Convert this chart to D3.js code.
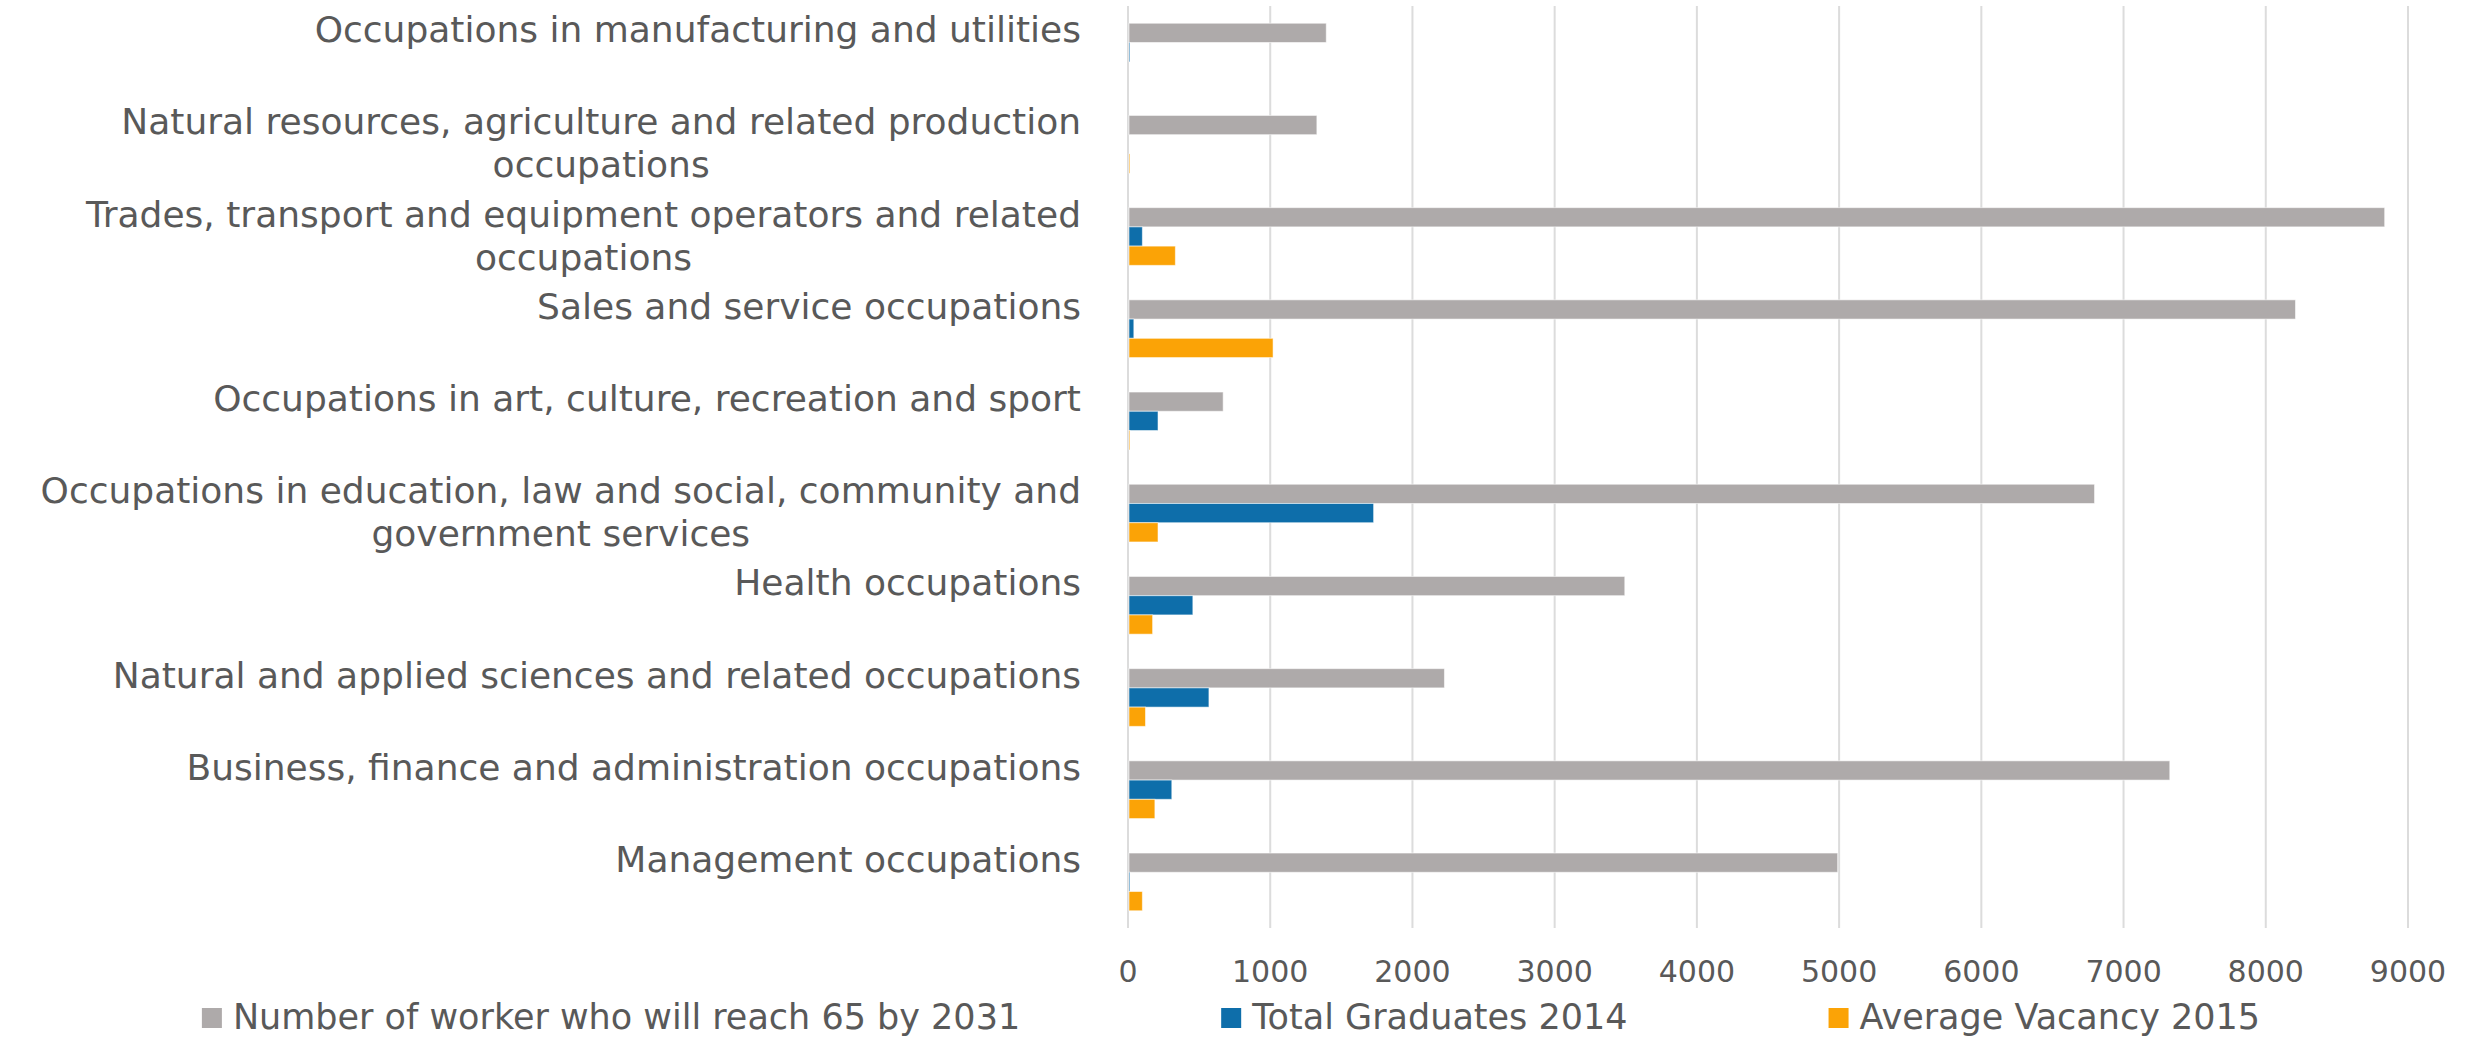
<!DOCTYPE html>
<html>
<head>
<meta charset="utf-8">
<script src="https://cdn.jsdelivr.net/npm/d3@7"></script>
<style>
  body { margin: 0; background: #fff; }
  svg text { font-family: "DejaVu Sans", sans-serif; fill: #595959; }
</style>
</head>
<body>
<svg id="chart" width="2466" height="1038"></svg>
<script>
// categories top to bottom, "\n" marks where the label wraps
var categories = [
    "Occupations in manufacturing and utilities",
    "Natural resources, agriculture and related production\noccupations",
    "Trades, transport and equipment operators and related\noccupations",
    "Sales and service occupations",
    "Occupations in art, culture, recreation and sport",
    "Occupations in education, law and social, community and\ngovernment services",
    "Health occupations",
    "Natural and applied sciences and related occupations",
    "Business, finance and administration occupations",
    "Management occupations"
];
var workers65 = [1394, 1328, 8836, 8209, 669, 6796, 3493, 2225, 7325, 4990];
var graduates2014 = [10, 0, 101, 41, 211, 1727, 456, 569, 308, 8];
var vacancy2015 = [0, 8, 333, 1020, 10, 211, 173, 123, 189, 101];

var seriesNames = ["Number of worker who will reach 65 by 2031", "Total Graduates 2014", "Average Vacancy 2015"];
var seriesColors = ["#aeaaaa", "#0e6eaa", "#fba306"];
var xTicks = [0, 1000, 2000, 3000, 4000, 5000, 6000, 7000, 8000, 9000];

var svg = d3.select("#chart");

var plotLeft = 1128, plotRight = 2408, plotTop = 6, plotBottom = 928;

var x = d3.scaleLinear().domain([0, 9000]).range([plotLeft, plotRight]);

var y = d3.scaleBand()
    .domain(categories)
    .range([plotTop, plotBottom])
    .paddingInner(0.374)
    .paddingOuter(0.187);

var ySub = d3.scaleBand()
    .domain([0, 1, 2])
    .range([0, y.bandwidth()]);

// gridlines
svg.append("g")
    .selectAll("line")
    .data(xTicks)
    .enter().append("line")
    .attr("x1", function (d) { return x(d); })
    .attr("x2", function (d) { return x(d); })
    .attr("y1", plotTop)
    .attr("y2", plotBottom)
    .style("stroke", "#dcdcdc")
    .style("stroke-width", 2);

// bars
var rows = categories.map(function (c, i) {
    return { cat: c, values: [workers65[i], graduates2014[i], vacancy2015[i]] };
});

var group = svg.append("g").selectAll(".cat")
    .data(rows)
    .enter().append("g")
    .attr("class", "cat")
    .attr("transform", function (d) { return "translate(0," + y(d.cat) + ")"; });

group.selectAll("rect")
    .data(function (d) {
        return d.values.map(function (v, s) { return { v: v, s: s }; })
            .filter(function (e) { return e.v > 0; });
    })
    .enter().append("rect")
    .attr("x", x(0) + 1)
    .attr("y", function (d) { return ySub(d.s); })
    .attr("width", function (d) { return Math.max(1, x(d.v) - x(0) - 1); })
    .attr("height", ySub.bandwidth())
    .style("fill", function (d) { return seriesColors[d.s]; })
    .style("stroke", "#ffffff")
    .style("stroke-opacity", 0.55)
    .style("stroke-width", 1);

// category labels
var labels = svg.append("g").selectAll("text")
    .data(categories)
    .enter().append("text")
    .style("font-size", "36px")
    .attr("y", function (d) { return y(d) + y.bandwidth() / 2 - 10; });

labels.each(function (d) {
    var t = d3.select(this);
    var lines = d.split("\n");
    var first = t.append("tspan")
        .attr("x", 1081)
        .attr("text-anchor", "end")
        .text(lines[0]);
    if (lines.length > 1) {
        // wrapped line is centred under the first one
        var w = first.node().getComputedTextLength();
        t.append("tspan")
            .attr("x", 1081 - w / 2)
            .attr("dy", 43)
            .attr("text-anchor", "middle")
            .text(lines[1]);
    }
});

// x tick labels
svg.append("g").selectAll("text")
    .data(xTicks)
    .enter().append("text")
    .attr("x", function (d) { return x(d); })
    .attr("y", 982)
    .attr("text-anchor", "middle")
    .style("font-size", "30px")
    .text(function (d) { return d; });

// legend, laid out then centred
var legend = svg.append("g");
var item = legend.selectAll("g")
    .data(seriesNames)
    .enter().append("g");

item.append("rect")
    .attr("y", 1008)
    .attr("width", 20)
    .attr("height", 20)
    .style("fill", function (d, i) { return seriesColors[i]; });

item.append("text")
    .attr("x", 31)
    .attr("y", 1029)
    .style("font-size", "35px")
    .text(function (d) { return d; });

var xpos = 0;
item.each(function () {
    var g = d3.select(this);
    g.attr("transform", "translate(" + xpos + ",0)");
    xpos += 31 + g.select("text").node().getComputedTextLength() + 201;
});
var legendWidth = xpos - 201;
legend.attr("transform", "translate(" + (1231 - legendWidth / 2) + ",0)");
</script>
</body>
</html>
